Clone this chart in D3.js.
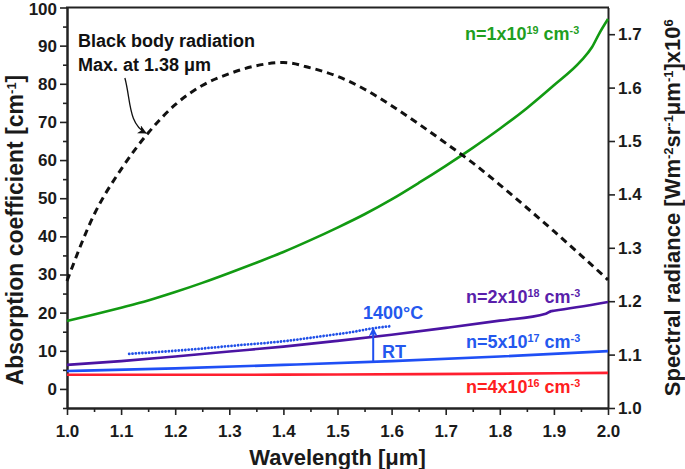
<!DOCTYPE html>
<html><head><meta charset="utf-8">
<script src="https://cdn.jsdelivr.net/npm/d3@7"></script>
<style>
body{margin:0;background:#fff;}
svg text{font-family:"Liberation Sans",Arial,sans-serif;font-weight:bold;}
</style></head><body>
<svg id="c" width="685" height="469"></svg>
<script>
// ---------- data ----------
const xTickValues = [1.0,1.1,1.2,1.3,1.4,1.5,1.6,1.7,1.8,1.9,2.0];
const xMinorTicks = [1.05,1.15,1.25,1.35,1.45,1.55,1.65,1.75,1.85,1.95];
const yLeftTicks = [0,10,20,30,40,50,60,70,80,90,100];
const yLeftMinor = [-5,5,15,25,35,45,55,65,75,85,95];
const yRightTicks = [1.0,1.1,1.2,1.3,1.4,1.5,1.6,1.7];

// black body spectral radiance (right axis, x10^6)
const wlBB  = [1.00,1.05,1.10,1.15,1.20,1.25,1.30,1.35,1.40,1.45,1.50,1.55,1.60,1.65,1.70,1.75,1.80,1.85,1.90,1.95,2.00];
const bbRad = [1.238,1.362,1.447,1.515,1.568,1.604,1.626,1.641,1.647,1.637,1.621,1.597,1.566,1.532,1.496,1.459,1.418,1.375,1.331,1.286,1.240];

// absorption coefficient (left axis, cm^-1)
const wlN19 = [1.00,1.05,1.10,1.15,1.20,1.25,1.30,1.35,1.40,1.45,1.50,1.55,1.60,1.65,1.70,1.75,1.80,1.85,1.90,1.95,1.97,1.985,2.00];
const n19   = [17.8,19.5,21.3,23.2,25.4,27.8,30.4,33.1,35.9,39.0,42.3,45.8,49.7,54.0,58.5,63.2,68.2,73.6,79.6,86.0,89.5,93.5,97.0];

const wlN18 = [1.00,1.10,1.20,1.30,1.40,1.50,1.60,1.70,1.80,1.885,1.895,1.90,2.00];
const n18   = [6.3,7.3,8.5,9.8,11.1,12.6,14.2,16.0,17.9,19.7,20.4,20.5,22.8];

const wlN17 = [1.0,1.2,1.4,1.6,1.8,2.0];
const n17   = [4.7,5.4,6.3,7.3,8.5,9.9];

const wlN16 = [1.0,1.25,1.5,1.75,2.0];
const n16   = [3.7,3.7,3.8,3.95,4.2];

// n=5x10^17 at 1400 C (dotted)
const wlHot = [1.115,1.2,1.32,1.4,1.47,1.53,1.566,1.60];
const hot   = [9.2,10.0,11.5,12.5,13.8,15.0,15.9,16.5];

// RT -> 1400 C arrow
const arrowWl = 1.566;
const arrowFrom = 7.1;
const arrowTo = 15.9;

// ---------- layout ----------
const svg = d3.select("#c");
const L = 67, R = 608, T = 7.5, B = 408;
const x = d3.scaleLinear([1,2],[L,R]);
const yL = d3.scaleLinear([-5,100],[B,T]);
const yR = d3.scaleLinear([1.0,1.75],[B,T]);
const axisColor = "#222";
const fs = 17;

const defs = svg.append("defs");
defs.append("marker").attr("id","ahB").attr("viewBox","0 0 10 10").attr("refX",9).attr("refY",5)
  .attr("markerWidth",9).attr("markerHeight",9).attr("markerUnits","userSpaceOnUse").attr("orient","auto")
  .append("path").attr("d","M0,0 L10,5 L0,10 L3,5 Z").attr("fill","#111");
defs.append("marker").attr("id","ahBlue").attr("viewBox","0 0 10 10").attr("refX",9).attr("refY",5)
  .attr("markerWidth",9).attr("markerHeight",9).attr("markerUnits","userSpaceOnUse").attr("orient","auto")
  .append("path").attr("d","M0,0 L10,5 L0,10 L3,5 Z").attr("fill","#1f4ff0");

// axes
function styleAxis(g){
  g.selectAll("path").attr("stroke",axisColor).attr("stroke-width",2);
  g.selectAll("line").attr("stroke",axisColor).attr("stroke-width",1.6);
  g.selectAll("text").attr("fill","#1a1a1a").style("font-size",fs+"px");
}
const gx = svg.append("g").attr("transform",`translate(0,${B})`)
  .call(d3.axisBottom(x).tickValues(xTickValues).tickFormat(d3.format(".1f")).tickSize(7).tickPadding(10).tickSizeOuter(0));
styleAxis(gx);
const gxm = svg.append("g").attr("transform",`translate(0,${B})`)
  .call(d3.axisBottom(x).tickValues(xMinorTicks).tickFormat("").tickSize(4).tickSizeOuter(0));
styleAxis(gxm);

const gl = svg.append("g").attr("transform",`translate(${L},0)`)
  .call(d3.axisLeft(yL).tickValues(yLeftTicks).tickFormat(d3.format("d")).tickSize(7).tickPadding(3).tickSizeOuter(0));
styleAxis(gl);
gl.selectAll(".tick text").filter(d=>d===100).attr("dy","0.42em");
const glm = svg.append("g").attr("transform",`translate(${L},0)`)
  .call(d3.axisLeft(yL).tickValues(yLeftMinor).tickFormat("").tickSize(4).tickSizeOuter(0));
styleAxis(glm);

const gr = svg.append("g").attr("transform",`translate(${R},0)`)
  .call(d3.axisRight(yR).tickValues(yRightTicks).tickFormat(d3.format(".1f")).tickSize(7).tickPadding(3).tickSizeOuter(0));
styleAxis(gr);

// top frame line
svg.append("line").attr("x1",L-1).attr("x2",R+1).attr("y1",T).attr("y2",T).attr("stroke",axisColor).attr("stroke-width",2);

// series
const lineL = (wl, vals) => d3.line().curve(d3.curveMonotoneX).x((d,i)=>x(wl[i])).y((d,i)=>yL(vals[i]))(vals);
const lineR = (wl, vals) => d3.line().curve(d3.curveMonotoneX).x((d,i)=>x(wl[i])).y((d,i)=>yR(vals[i]))(vals);

svg.append("path").attr("d",lineL(wlN16,n16)).attr("fill","none").attr("stroke","#ff1f2f").attr("stroke-width",2.6);
svg.append("path").attr("d",lineL(wlN17,n17)).attr("fill","none").attr("stroke","#1f4ff5").attr("stroke-width",2.6);
svg.append("path").attr("d",lineL(wlN18,n18)).attr("fill","none").attr("stroke","#4b14a3").attr("stroke-width",2.6);
svg.append("path").attr("d",lineL(wlN19,n19)).attr("fill","none").attr("stroke","#129a12").attr("stroke-width",2.6);
svg.append("path").attr("d",lineL(wlHot,hot)).attr("fill","none").attr("stroke","#2050e8").attr("stroke-width",2.8)
  .attr("stroke-dasharray","0.01,3.3").attr("stroke-linecap","round");
svg.append("path").attr("d",lineR(wlBB,bbRad)).attr("fill","none").attr("stroke","#111").attr("stroke-width",3)
  .attr("stroke-dasharray","7,5");

// RT arrow
svg.append("line").attr("x1",x(arrowWl)).attr("x2",x(arrowWl)).attr("y1",yL(arrowFrom)).attr("y2",yL(arrowTo))
  .attr("stroke","#1f4ff0").attr("stroke-width",2).attr("marker-end","url(#ahBlue)");

// black body annotation arrow
const bbA = [[1.107,1.618],[1.118,1.577],[1.113,1.532],[1.146,1.515]];
const p = bbA.map(d=>[x(d[0]),yR(d[1])]);
svg.append("path").attr("d",`M${p[0]}C${p[1]} ${p[2]} ${p[3]}`).attr("fill","none").attr("stroke","#111")
  .attr("stroke-width",1.3).attr("marker-end","url(#ahB)");

// labels
function label(xp, yp, parts, color, size){
  const t = svg.append("text").attr("x",xp).attr("y",yp).attr("fill",color).style("font-size",size+"px");
  parts.forEach(pt=>{
    if (typeof pt === "string") t.append("tspan").text(pt);
    else t.append("tspan").attr("baseline-shift","super").style("font-size",(size*0.6)+"px").text(pt.sup);
  });
  return t;
}
label(78,47,["Black body radiation"],"#111",18);
label(78,71,["Max. at 1.38 \u03bcm"],"#111",18);
label(465,40,["n=1x10",{sup:"19"}," cm",{sup:"-3"}],"#1f9f1f",18);
label(466,303,["n=2x10",{sup:"18"}," cm",{sup:"-3"}],"#5a1fab",18);
label(466,348,["n=5x10",{sup:"17"}," cm",{sup:"-3"}],"#2458ee",18);
label(466,393,["n=4x10",{sup:"16"}," cm",{sup:"-3"}],"#ff2020",18);
label(363,319,["1400\u00b0C"],"#2458ee",18);
label(382,358,["RT"],"#2458ee",18);

// axis titles
svg.append("text").attr("x",(L+R)/2).attr("y",465).attr("text-anchor","middle").attr("fill","#1a1a1a")
  .style("font-size","22px").text("Wavelength [\u03bcm]");

const lt = svg.append("text").attr("transform",`translate(23,230) rotate(-90)`).attr("text-anchor","middle")
  .attr("fill","#1a1a1a").style("font-size","23px");
lt.append("tspan").text("Absorption coefficient [cm");
lt.append("tspan").attr("baseline-shift","super").style("font-size","13px").text("-1");
lt.append("tspan").text("]");

const rt = svg.append("text").attr("transform",`translate(680,${(T+B)/2}) rotate(-90)`).attr("text-anchor","middle")
  .attr("fill","#1a1a1a").style("font-size","22px");
rt.append("tspan").text("Spectral radiance [Wm");
rt.append("tspan").attr("baseline-shift","super").style("font-size","13px").text("-2");
rt.append("tspan").text("sr");
rt.append("tspan").attr("baseline-shift","super").style("font-size","13px").text("-1");
rt.append("tspan").text("\u03bcm");
rt.append("tspan").attr("baseline-shift","super").style("font-size","13px").text("-1");
rt.append("tspan").text("]x10");
rt.append("tspan").attr("baseline-shift","super").style("font-size","13px").text("6");
</script>
</body></html>
